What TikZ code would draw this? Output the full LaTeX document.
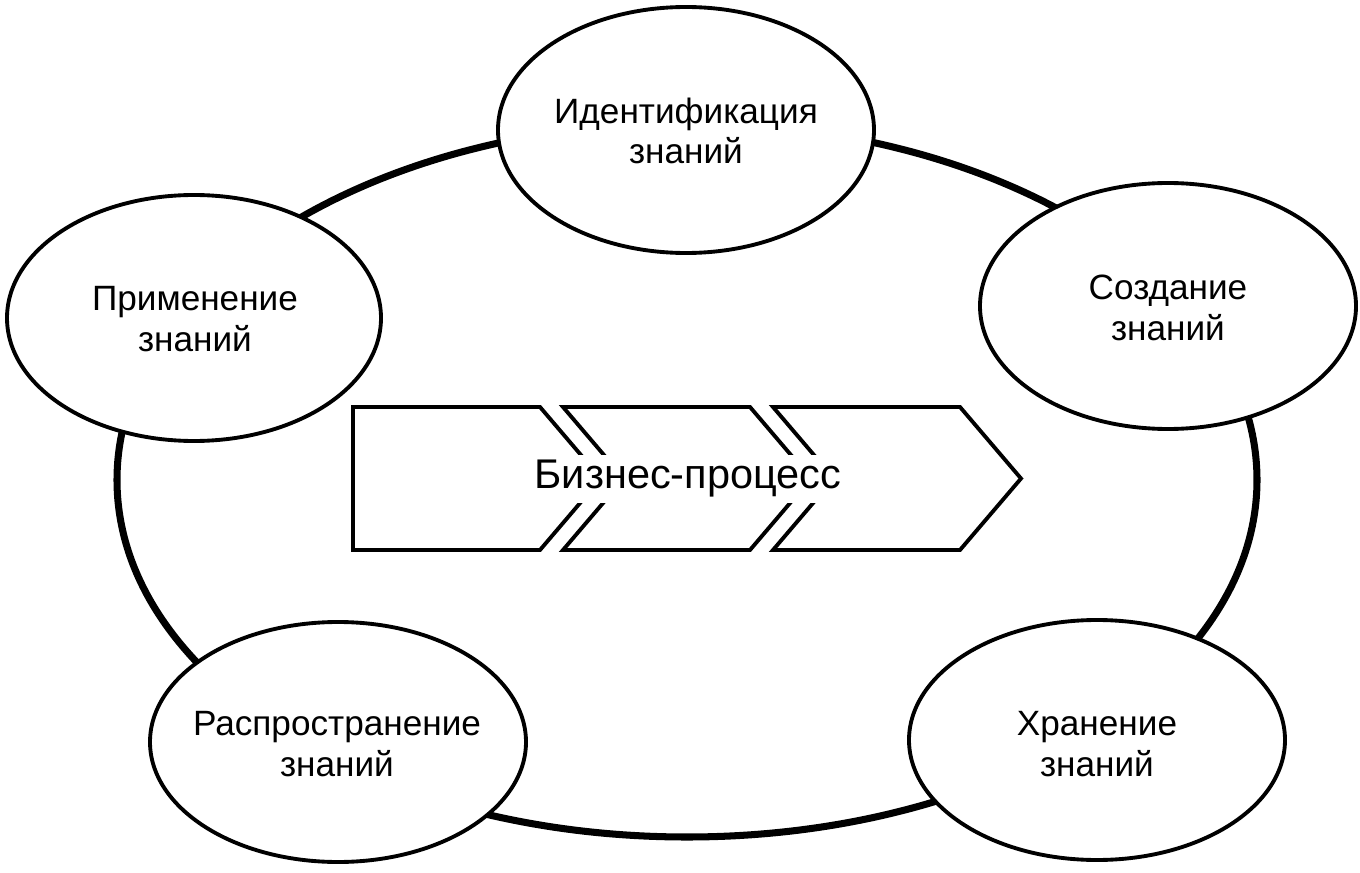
\documentclass[tikz,border=0pt]{standalone}
\usepackage{fontspec}
\setmainfont{Liberation Sans}
\usepackage{tikz}
\usetikzlibrary{positioning}

\tikzset{
  ring/.style={line width=2pt},
  knot/.style={line width=1.1pt, fill=white},
  stage/.style={align=center, font=\fontsize{10}{11.6}\selectfont},
  chevron/.style={line width=1.1pt, line join=miter},
  process/.style={fill=white, inner xsep=0pt, inner ysep=1.5pt, font=\fontsize{11.8}{14}\selectfont}
}

\begin{document}
\begin{tikzpicture}[x=0.01cm, y=-0.01cm]
\useasboundingbox (0,0) rectangle (1360,873);

% outer cycle
\draw[ring] (687,480) ellipse [x radius=570, y radius=357];

% stages of knowledge
\draw[knot] (686,130) ellipse [x radius=188, y radius=123];
\draw[knot] (1168,306) ellipse [x radius=188, y radius=123];
\draw[knot] (1097,740) ellipse [x radius=188, y radius=120];
\draw[knot] (338,742) ellipse [x radius=188, y radius=120];
\draw[knot] (194,318) ellipse [x radius=187, y radius=123];

\node[stage](ident) at (686,131) {Идентификация\\знаний};
\node[stage](create) at (1168,308) {Создание\\знаний};
\node[stage](store) at (1097,744) {Хранение\\знаний};
\node[stage](spread) at (337,744) {Распространение\\знаний};
\node[stage](apply) at (195,319) {Применение\\знаний};

% business process chevrons
\draw[chevron] (353,407) -- (540,407) -- (601,478.5) -- (540,550) -- (353,550) -- cycle;
\draw[chevron] (563,407) -- (750,407) -- (811,478.5) -- (750,550) -- (563,550) -- (624,478.5) -- cycle;
\draw[chevron] (773,407) -- (960,407) -- (1021,478.5) -- (960,550) -- (773,550) -- (834,478.5) -- cycle;

\node[process](proc) at (688,479) {Бизнес-процесс};
\end{tikzpicture}
\end{document}
